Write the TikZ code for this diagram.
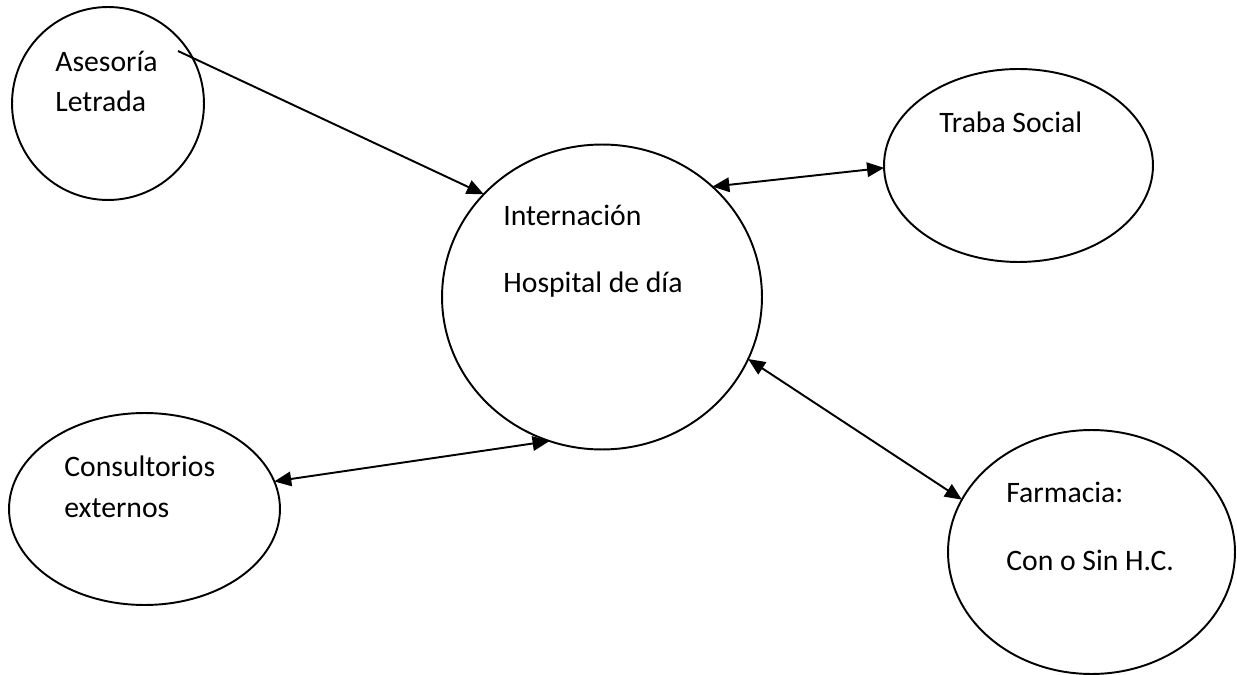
\documentclass[tikz,border=0pt]{standalone}
\usepackage{fontspec}
\setmainfont{Carlito}
\usetikzlibrary{shapes.geometric,arrows.meta}

\begin{document}
\begin{tikzpicture}[
    x=0.02cm, y=-0.02cm,
    every node/.style = {font=\fontsize{16.9}{23.2}\selectfont},
    bubble/.style     = {draw, ellipse, line width=1.1pt,
                         inner sep=0pt, outer sep=0pt},
    lbl/.style        = {anchor=base west, align=left, inner sep=0pt},
    link/.style       = {line width=1.1pt,
                         -{Triangle[length=0.34cm, width=0.29cm]}},
    both/.style       = {line width=1.1pt,
                         {Triangle[length=0.34cm, width=0.29cm]}-{Triangle[length=0.34cm, width=0.29cm]}}]

    \useasboundingbox (0,0) rectangle (1237,675);

    % Bubbles
    \node[bubble, minimum width=3.84cm, minimum height=3.86cm] (ases)   at ( 108.0, 103.5) {};
    \node[bubble, minimum width=6.40cm, minimum height=6.10cm] (hosp)   at ( 602.0, 297.0) {};
    \node[bubble, minimum width=5.38cm, minimum height=3.86cm] (traba)  at (1018.5, 165.5) {};
    \node[bubble, minimum width=5.42cm, minimum height=3.84cm] (consul) at ( 144.5, 509.0) {};
    \node[bubble, minimum width=5.74cm, minimum height=4.88cm] (farm)   at (1091.5, 552.0) {};

    % Labels (anchored at the baseline of the last line)
    \node[lbl] (asesT)   at (  55, 112) {Asesoría\\Letrada};
    \node[lbl] (hospT)   at ( 503, 293) {Internación\\[15.4pt]Hospital de día};
    \node[lbl] (trabaT)  at ( 939, 133) {Traba Social};
    \node[lbl] (consulT) at (  64, 517) {Consultorios\\externos};
    \node[lbl] (farmT)   at (1006, 570) {Farmacia:\\[15.4pt]Con o Sin H.C.};

    % Connectors
    \coordinate (asesStart) at (178, 51);
    \draw[link] (asesStart) -- (hosp.139);
    \draw[both] (hosp.45)   -- (traba.181);
    \draw[both] (consul.12) -- (hosp.250);
    \draw[both] (hosp.337)  -- (farm.158);
\end{tikzpicture}
\end{document}
